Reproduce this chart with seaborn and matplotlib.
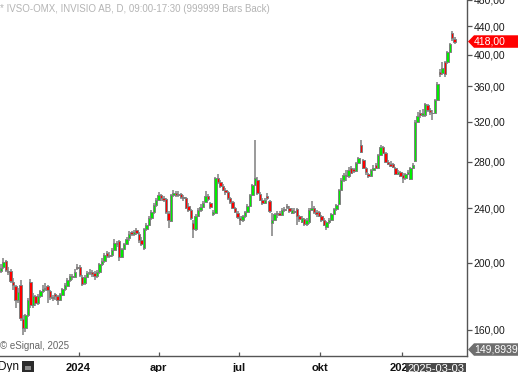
import numpy as np
import pandas as pd
import matplotlib
matplotlib.use("Agg")
import matplotlib.pyplot as plt
import seaborn as sns
from matplotlib.ticker import FixedLocator, FuncFormatter, NullLocator
from matplotlib.patches import Polygon, Rectangle

# ---------------- data (one bar = every second trading day) ----------------
opens = [196, 195, 197, 201, 195, 195, 188, 185, 177, 185.8,
         166, 161, 168, 188, 174, 179, 175, 179, 182, 183.5,
         185, 182, 178.5, 180.5, 179, 177, 180, 183.5, 185.5, 189,
         191.5, 191, 197.5, 197, 191, 187, 191, 193.5, 194, 193.5,
         191.5, 194, 199.5, 201.5, 206.5, 204.6, 205.5, 209, 213.5, 215,
         204, 209.5, 213, 217, 221.5, 220, 223.5, 220.5, 216, 210.5,
         224, 227, 232.5, 237, 242.5, 247, 250.5, 248, 247.5, 236,
         230, 250.5, 252.5, 251, 251.5, 249, 248, 242, 238.5, 228.5,
         224, 234, 238.5, 241, 245, 250, 244, 235, 236.5, 265,
         262, 258.5, 255, 253, 248.5, 245, 240, 236.5, 232.5, 230.5,
         233.5, 237, 242, 251, 259.5, 264, 252, 246.5, 244, 250,
         246, 228.5, 231, 235, 236.5, 234.5, 238.5, 242, 240.5, 236.5,
         238, 239, 233.5, 229.5, 231.5, 227.5, 229, 238.5, 240.5, 237,
         237, 233.5, 231, 225.5, 229, 231, 235.5, 239, 243.5, 255,
         263.5, 268, 267, 274, 273, 272, 279, 296, 281.5, 274,
         269, 267.5, 272.5, 277, 274.5, 286.5, 294, 288.5, 280, 278,
         278, 274, 269, 270.5, 268, 265, 269, 264.5, 274.5, 281,
         320, 329.5, 327, 327, 338.5, 332.5, 330, 330, 344.5, 377.5,
         376, 390, 390, 404, 430, 421]
highs = [199, 199, 203, 202, 197, 196, 190, 186, 184, 189,
         168, 169, 178, 189.5, 181, 180, 180.5, 183, 186, 187,
         186, 183, 180, 181, 180, 181, 184, 187, 190, 193,
         193, 196, 199, 198.5, 192, 192, 195, 196, 195.5, 194.5,
         195.5, 200, 203, 206.5, 208, 207.5, 210.5, 216.5, 215.5, 216,
         210.5, 214, 218, 222.5, 222.5, 223.5, 224.5, 221.5, 218, 225,
         228.5, 234, 238.5, 244.5, 248, 253, 252, 250, 248.5, 238,
         252, 255, 254, 254, 252.5, 251, 249.5, 244, 239.5, 230.5,
         235.5, 240, 243, 246, 254, 251.5, 245, 238.5, 266, 269,
         264, 260, 256.5, 254, 249.5, 246, 241, 237.5, 234, 234.5,
         237.5, 243, 251.5, 260.5, 301, 266, 253.5, 248, 248, 252.5,
         247, 236, 236.5, 237.5, 238, 240, 241, 243, 241.5, 240,
         240.5, 240, 234.5, 233.5, 232.5, 232, 240.5, 246, 241.5, 238.5,
         238, 234.5, 232, 230, 232, 236, 240.5, 243.5, 256, 265,
         270, 272.5, 275, 276, 274.5, 280, 285, 301, 283, 275,
         270, 273.5, 277, 279, 287.5, 296, 295.5, 289.5, 282, 280.5,
         279, 275.5, 272.5, 272, 270, 270, 272.5, 275.5, 278.5, 322,
         331, 333, 334, 341, 340, 335, 333, 345.5, 365, 381,
         391, 392, 405, 416, 433, 424]
lows = [193, 193.5, 196, 194, 192, 187, 183, 172, 175, 165,
        157.3, 159, 167, 172, 172, 173, 174, 178, 181, 182,
        175, 177, 176, 177, 174, 176, 179, 182, 185, 188,
        189, 190, 195.5, 191, 185, 186, 190, 192, 191, 189,
        190.5, 193, 198, 200, 203, 203, 204, 208, 211, 201,
        203, 208.5, 212, 215, 218.5, 219, 219.5, 214, 211.5, 209,
        222.5, 226, 231, 235.5, 241, 245.5, 246, 245, 235, 225,
        229, 249, 249, 249.5, 247.5, 245.5, 239, 237, 231, 217,
        222.5, 233, 237, 240, 244, 246, 239.5, 233.5, 235.5, 260.5,
        256.5, 254, 251, 247, 243.5, 239, 236, 231.5, 227, 229.5,
        232.5, 236, 241, 250, 258, 251, 245.5, 242.5, 243, 247,
        236.5, 219, 230, 232.5, 233.5, 233.5, 237, 239.5, 236.5, 235.5,
        235.5, 227, 229.5, 228.5, 226.5, 226.5, 228, 237.5, 235.5, 233,
        233, 229.5, 226, 223, 228, 230, 234.5, 238, 242.5, 254,
        262, 263, 265.5, 268.5, 270, 271, 278, 288, 273, 268,
        265.5, 266.5, 271.5, 273.5, 273.5, 285.5, 287, 279, 277, 275,
        274, 268, 268, 266, 261, 264, 268, 263.5, 273.5, 280,
        318.5, 324, 325.5, 325, 331, 327.5, 322, 329, 343.5, 372,
        374, 371, 388, 402.5, 419, 414]
closes = [195.3, 196.6, 200.6, 195.3, 194.0, 188.4, 185.8, 176.8, 181.6, 166.5,
          161.1, 168.2, 176.8, 173.9, 179.1, 175.0, 179.1, 182.2, 183.4, 184.0,
          182.8, 178.5, 177.9, 179.1, 176.8, 180.3, 183.4, 185.8, 189.0, 191.5,
          190.8, 194.0, 196.6, 192.1, 186.4, 190.8, 193.4, 194.0, 192.7, 191.5,
          194.0, 199.3, 201.3, 205.3, 204.6, 205.3, 208.8, 213.7, 213.0, 203.9,
          209.5, 213.0, 216.6, 220.2, 220.2, 221.7, 221.0, 215.9, 213.0, 223.9,
          226.9, 232.2, 236.9, 242.5, 246.6, 250.7, 248.2, 246.6, 236.9, 230.7,
          250.7, 252.4, 250.7, 251.5, 249.0, 248.2, 240.1, 238.5, 232.2, 223.9,
          233.8, 238.5, 240.9, 244.1, 249.9, 247.4, 240.9, 236.9, 265.4, 261.8,
          258.3, 254.9, 253.2, 248.2, 245.0, 240.1, 236.9, 233.0, 230.7, 233.8,
          236.9, 241.7, 250.7, 259.2, 265.4, 252.4, 246.6, 244.1, 246.6, 248.2,
          237.7, 230.7, 235.4, 236.1, 234.6, 238.5, 239.3, 240.9, 237.7, 238.5,
          236.9, 233.8, 231.5, 232.2, 227.6, 230.7, 238.5, 240.1, 236.9, 235.4,
          233.8, 230.7, 226.9, 229.2, 230.7, 235.4, 239.3, 242.5, 254.9, 263.6,
          268.0, 267.1, 272.5, 269.8, 271.6, 278.9, 283.6, 289.1, 274.3, 270.7,
          267.1, 272.5, 274.3, 274.3, 286.4, 294.0, 288.2, 279.8, 278.0, 276.1,
          275.2, 268.9, 270.7, 267.1, 265.4, 268.9, 270.7, 274.3, 277.0, 319.7,
          326.1, 327.2, 329.4, 339.4, 332.7, 330.5, 329.4, 344.0, 363.1, 375.0,
          382.6, 375.0, 403.5, 414.0, 422.5, 418.0]

first_day = "2023-10-02"
last_day = "2025-03-03"
y_ticks = [160, 200, 240, 280, 320, 360, 400, 440, 480]
x_tick_months = ["2024-01-01", "2024-04-01", "2024-07-01", "2024-10-01", "2025-01-01"]
x_tick_labels = ["2024", "apr", "jul", "okt", "2025"]
marker_low_value = 149.8939
title = "* IVSO-OMX, INVISIO AB, D, 09:00-17:30 (999999 Bars Back)"
credit = "\u00a9 eSignal, 2025"

# ---------------- setup ----------------
sns.set_theme(style="white")
plt.rcParams["font.family"] = ["Liberation Sans", "DejaVu Sans"]

all_days = pd.bdate_range(first_day, last_day)
bar_days = all_days[::2]
df = pd.DataFrame({"date": bar_days, "open": opens, "high": highs,
                   "low": lows, "close": closes})
df["pos"] = np.arange(len(df))
df["up"] = df["close"] >= df["open"]

W, H = 518, 372
fig = plt.figure(figsize=(W / 100, H / 100), dpi=100)
fig.patch.set_facecolor("white")
ax_right_px, ax_bottom_px = 467, 356
ax = fig.add_axes([0, (H - ax_bottom_px) / H, ax_right_px / W, ax_bottom_px / H])
ax.set_facecolor("white")
ax.set_yscale("log")

gray = "#7f7f7f"
ax.vlines(df["pos"], df["low"], df["high"], color=gray, linewidth=1.1, zorder=2)
body_bottom = np.minimum(df["open"], df["close"])
body_h = np.maximum(np.abs(df["close"] - df["open"]), 0.4)
colors = np.where(df["up"], "#00ee00", "#ff0000")
ax.bar(df["pos"], body_h, bottom=body_bottom, width=1.0, color=colors,
       edgecolor=gray, linewidth=0.7, zorder=3)

ax.set_ylim(146.7, 480)
ax.set_xlim(0.67, 190)

# spines
for s in ["left", "top"]:
    ax.spines[s].set_visible(False)
for s in ["right", "bottom"]:
    ax.spines[s].set_visible(True)
    ax.spines[s].set_color("#555555")
    ax.spines[s].set_linewidth(1.0)

# y axis on right
ax.yaxis.tick_right()
ax.yaxis.set_major_locator(FixedLocator(y_ticks))
ax.yaxis.set_minor_locator(NullLocator())
ax.yaxis.set_major_formatter(FuncFormatter(lambda v, p: f"{v:.2f}".replace(".", ",")))
ax.tick_params(axis="y", which="major", direction="out", length=3.5, width=0.9,
               color="#555555", labelcolor="#1a1a1a", labelsize=7.5, pad=1, right=True, left=False)

# x ticks from dates
tick_pos = [all_days.get_indexer([pd.Timestamp(m)])[0] / 2 for m in x_tick_months]
ax.set_xticks(tick_pos)
ax.set_xticklabels(x_tick_labels, fontweight="bold")
ax.xaxis.set_minor_locator(NullLocator())
ax.tick_params(axis="x", which="major", direction="in", length=3, width=0.9,
               color="#555555", labelcolor="#111111", labelsize=8, pad=5, bottom=True)
ax.grid(False)

# ---------------- annotations ----------------
fig.canvas.draw()
def data_to_fig_y(v):
    _, yp = ax.transData.transform((0, v))
    return yp  # pixels from bottom

def tag(value_y_px, text, face):
    yb = value_y_px
    h = 12.5
    x0 = ax_right_px + 1
    pts = [(x0, yb), (x0 + 6, yb + h / 2), (W + 2, yb + h / 2), (W + 2, yb - h / 2), (x0 + 6, yb - h / 2)]
    pts = [(px / W, py / H) for px, py in pts]
    fig.patches.append(Polygon(pts, closed=True, transform=fig.transFigure,
                               facecolor=face, edgecolor="none", zorder=5))
    fig.text((x0 + 6) / W, yb / H, text, color="white", fontsize=7.5,
             ha="left", va="center", zorder=6)

tag(data_to_fig_y(df["close"].iloc[-1]), f"{df['close'].iloc[-1]:.2f}".replace(".", ","), "#ff0000")
tag(data_to_fig_y(marker_low_value), f"{marker_low_value:.4f}".replace(".", ","), "#6e6e6e")

# date box (covers part of the last x label, as in the terminal view)
last_date = df["date"].iloc[-1].strftime("%Y-%m-%d")
bx0, bx1, by0 = 406, 466, 363
fig.patches.append(Rectangle((bx0 / W, 0), (bx1 - bx0) / W, (H - by0) / H,
                             transform=fig.transFigure, facecolor="#4a4a4a",
                             edgecolor="none", zorder=5))
fig.text((bx0 + bx1) / 2 / W, (H - 368.5) / H, last_date, color="white",
         fontsize=8, ha="center", va="center", zorder=6)

# title & credit
fig.text(0.0, (H - 8.5) / H, title, color="#b4b4b4", fontsize=7, ha="left", va="center")
fig.text(0.0, (H - 346) / H, credit, color="#666666", fontsize=7, ha="left", va="center")

# Dyn + lock icon
fig.text(-2 / W, (H - 367) / H, "Dyn", color="#111111", fontsize=8.5,
         ha="left", va="center")
fig.patches.append(Rectangle((22 / W, 0), 12 / W, 11 / H, transform=fig.transFigure,
                             facecolor="#2b2b2b", edgecolor="none", zorder=5))
fig.patches.append(Rectangle((25 / W, 2 / H), 6 / W, 4 / H, transform=fig.transFigure,
                             facecolor="#8a8a8a", edgecolor="none", zorder=6))

fig.savefig("out.png", dpi=100, facecolor="white")
